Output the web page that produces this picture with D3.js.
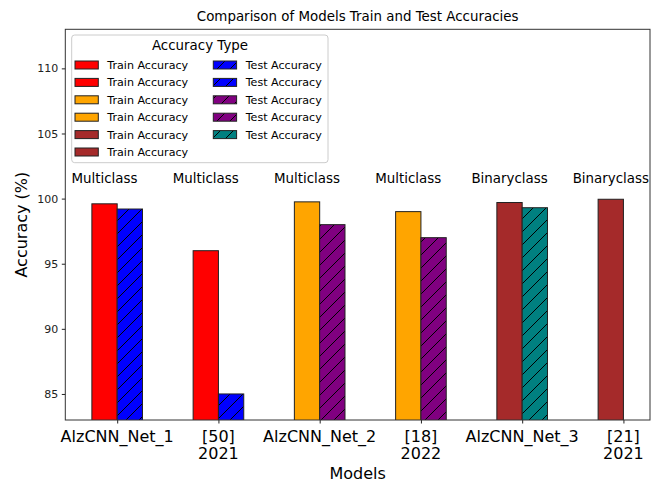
<!DOCTYPE html>
<html>
<head>
<meta charset="utf-8">
<script src="https://cdn.jsdelivr.net/npm/d3@7"></script>
<style>
  html, body { margin: 0; padding: 0; background: #fff; }
  svg { display: block; font-family: "DejaVu Sans", sans-serif; }
</style>
</head>
<body>
<svg id="chart" width="660" height="483"></svg>
<script>
// ---- data ----
const models = ["AlzCNN_Net_1", "[50]\n2021", "AlzCNN_Net_2", "[18]\n2022", "AlzCNN_Net_3", "[21]\n2021"];
const trainAcc = [99.6, 96.0, 99.75, 99.0, 99.7, 99.95];
const testAcc = [99.2, 85.0, 98.0, 97.0, 99.3, null];
const classTypes = ["Multiclass", "Multiclass", "Multiclass", "Multiclass", "Binaryclass", "Binaryclass"];
const trainColors = ["#ff0000", "#ff0000", "#ffa500", "#ffa500", "#a52a2a", "#a52a2a"];
const testColors = ["#0000ff", "#0000ff", "#800080", "#800080", "#008080", null];
const yTicks = [85, 90, 95, 100, 105, 110];
const yDomain = [83, 113];
const titleText = "Comparison of Models Train and Test Accuracies";
const xLabel = "Models";
const yLabel = "Accuracy (%)";
const legendTitle = "Accuracy Type";
const trainLabel = "Train Accuracy";
const testLabel = "Test Accuracy";

// ---- layout ----
const L = 65.3, R = 650, T = 29.3, B = 420;
const barW = 0.25;
const svg = d3.select("#chart");

const x = d3.scaleLinear().domain([-0.5125, 5.2625]).range([L, R]);
const y = d3.scaleLinear().domain(yDomain).range([B, T]);

// hatch patterns
const defs = svg.append("defs");
const hatchColors = Array.from(new Set(testColors.filter(c => c)));
hatchColors.forEach((c, i) => {
  const p = defs.append("pattern")
    .attr("id", "hatch" + i)
    .attr("patternUnits", "userSpaceOnUse")
    .attr("width", 13).attr("height", 13);
  p.append("rect").attr("width", 13).attr("height", 13).attr("fill", c);
  p.append("path")
    .attr("d", "M0,13 L13,0 M-3.25,3.25 L3.25,-3.25 M9.75,16.25 L16.25,9.75")
    .attr("stroke", "#000").attr("stroke-width", 1);
});
const hatchId = c => "url(#hatch" + hatchColors.indexOf(c) + ")";

// clip
defs.append("clipPath").attr("id", "plotclip")
  .append("rect").attr("x", L).attr("y", T).attr("width", R - L).attr("height", B - T);

const plot = svg.append("g").attr("clip-path", "url(#plotclip)");

// train bars
plot.selectAll("rect.train").data(models).enter().append("rect")
  .attr("class", "train")
  .attr("x", (d, i) => x(i - barW))
  .attr("width", (d, i) => x(i) - x(i - barW))
  .attr("y", (d, i) => y(trainAcc[i]))
  .attr("height", (d, i) => y(yDomain[0]) - y(trainAcc[i]) + 2)
  .attr("fill", (d, i) => trainColors[i])
  .attr("stroke", "#222").attr("stroke-width", 1);

// test bars
const testIdx = models.map((d, i) => i).filter(i => testAcc[i] != null);
plot.selectAll("rect.test").data(testIdx).enter().append("rect")
  .attr("class", "test")
  .attr("x", i => x(i))
  .attr("width", i => x(i + barW) - x(i))
  .attr("y", i => y(testAcc[i]))
  .attr("height", i => y(yDomain[0]) - y(testAcc[i]) + 2)
  .attr("fill", i => hatchId(testColors[i]))
  .attr("stroke", "#222").attr("stroke-width", 1);

// axes
const yAxis = d3.axisLeft(y).tickValues(yTicks).tickSize(3.5).tickPadding(3.5);
const gy = svg.append("g").attr("transform", `translate(${L},0)`).call(yAxis);
gy.select(".domain").remove();
gy.selectAll("text").attr("font-size", 11).attr("fill", "#222").attr("font-family", "DejaVu Sans");
gy.selectAll("line").attr("stroke", "#222");

const xAxis = d3.axisBottom(x).tickValues(models.map((d, i) => i)).tickSize(3.5).tickFormat("");
const gx = svg.append("g").attr("transform", `translate(0,${B})`).call(xAxis);
gx.select(".domain").remove();
gx.selectAll("line").attr("stroke", "#222");

// x tick labels (multi-line)
models.forEach((m, i) => {
  const lines = m.split("\n");
  const t = svg.append("text")
    .attr("x", x(i)).attr("y", 441.5)
    .attr("text-anchor", "middle")
    .attr("font-size", 16).attr("fill", "#000");
  lines.forEach((ln, k) => {
    t.append("tspan").attr("x", x(i)).attr("dy", k === 0 ? 0 : 17).text(ln);
  });
});

// frame
svg.append("rect").attr("x", L).attr("y", T).attr("width", R - L).attr("height", B - T)
  .attr("fill", "none").attr("stroke", "#333").attr("stroke-width", 1);

// class annotations
svg.selectAll("text.cls").data(classTypes).enter().append("text")
  .attr("class", "cls")
  .attr("x", (d, i) => x(i - barW / 2))
  .attr("y", y(101) - 3)
  .attr("text-anchor", "middle")
  .attr("font-size", 13.4).attr("fill", "#000")
  .text(d => d);

// title & labels
svg.append("text").attr("x", (L + R) / 2).attr("y", 21)
  .attr("text-anchor", "middle").attr("font-size", 13.4).attr("fill", "#000")
  .text(titleText);
svg.append("text").attr("x", (L + R) / 2).attr("y", 479)
  .attr("text-anchor", "middle").attr("font-size", 16).attr("fill", "#000")
  .text(xLabel);
svg.append("text")
  .attr("transform", `translate(27,${(T + B) / 2}) rotate(-90)`)
  .attr("text-anchor", "middle").attr("font-size", 16).attr("fill", "#000")
  .text(yLabel);

// legend
const lg = svg.append("g");
lg.append("rect").attr("x", 71.7).attr("y", 35).attr("width", 256.3).attr("height", 127.7)
  .attr("rx", 3).attr("fill", "#fff").attr("fill-opacity", 0.8)
  .attr("stroke", "#cccccc").attr("stroke-width", 1);
lg.append("text").attr("x", 200).attr("y", 50).attr("text-anchor", "middle")
  .attr("font-size", 13.4).attr("fill", "#000").text(legendTitle);

const rowY = k => 65 + k * 17.4;
trainColors.forEach((c, k) => {
  lg.append("rect").attr("x", 75).attr("y", rowY(k) - 4).attr("width", 23.3).attr("height", 8)
    .attr("fill", c).attr("stroke", "#222").attr("stroke-width", 1);
  lg.append("text").attr("x", 107.3).attr("y", rowY(k) + 4)
    .attr("font-size", 11.1).attr("fill", "#000").text(trainLabel);
});
testColors.filter(c => c).forEach((c, k) => {
  lg.append("rect").attr("x", 213.3).attr("y", rowY(k) - 4).attr("width", 23.3).attr("height", 8)
    .attr("fill", hatchId(c)).attr("stroke", "#222").attr("stroke-width", 1);
  lg.append("text").attr("x", 245.7).attr("y", rowY(k) + 4)
    .attr("font-size", 11.1).attr("fill", "#000").text(testLabel);
});
</script>
</body>
</html>
